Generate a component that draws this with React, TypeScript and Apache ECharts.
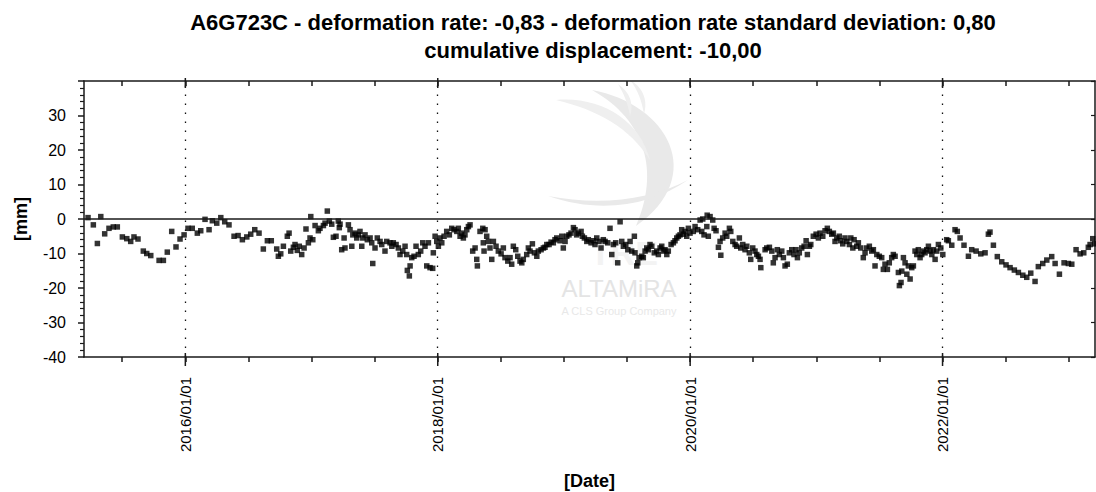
import React, { useEffect, useRef } from "react";
import * as echarts from "echarts";

const titleLine1 = "A6G723C - deformation rate: -0,83 - deformation rate standard deviation: 0,80";
const titleLine2 = "cumulative displacement: -10,00";
const yAxisName = "[mm]";
const xAxisName = "[Date]";

const yMin = -40;
const yMax = 40;
const yStep = 10;
const xMin = 2015.197;
const xMax = 2023.208;
const majorYears = [2016, 2018, 2020, 2022];
const halfYearTicks = [2015.5, 2016, 2016.5, 2017, 2017.5, 2018, 2018.5, 2019, 2019.5, 2020, 2020.5, 2021, 2021.5, 2022, 2022.5, 2023];

// observation epochs (decimal years) and displacement (mm)
const obsYears = [
  2015.229, 2015.271, 2015.303, 2015.330, 2015.361, 2015.395, 2015.429, 2015.461, 2015.501, 2015.536,
  2015.567, 2015.593, 2015.625, 2015.667, 2015.694, 2015.726, 2015.792, 2015.826, 2015.857, 2015.892,
  2015.926, 2015.958, 2015.990, 2016.021, 2016.055, 2016.095, 2016.122, 2016.156, 2016.188, 2016.214,
  2016.249, 2016.281, 2016.312, 2016.346, 2016.386, 2016.418, 2016.452, 2016.487, 2016.518, 2016.550,
  2016.584, 2016.618, 2016.650, 2016.681, 2016.724, 2016.737, 2016.756, 2016.777, 2016.808, 2016.822,
  2016.835,
  2016.856, 2016.869, 2016.887, 2016.903, 2016.922, 2016.941, 2016.956, 2016.975, 2016.988, 2016.994,
  2017.010, 2017.028, 2017.054, 2017.067, 2017.094, 2017.107, 2017.125, 2017.141, 2017.160, 2017.173,
  2017.194, 2017.212, 2017.220, 2017.226, 2017.239, 2017.258, 2017.265, 2017.292, 2017.305, 2017.319,
  2017.327, 2017.345, 2017.358, 2017.371, 2017.384, 2017.398, 2017.406, 2017.424, 2017.442, 2017.464,
  2017.477, 2017.485, 2017.503, 2017.521, 2017.543, 2017.556, 2017.582, 2017.596, 2017.622, 2017.636,
  2017.648, 2017.670, 2017.688, 2017.701, 2017.723, 2017.741, 2017.754, 2017.759, 2017.775, 2017.781,
  2017.794, 2017.812, 2017.828, 2017.846, 2017.865, 2017.881, 2017.899, 2017.913, 2017.926, 2017.939,
  2017.960, 2017.965, 2017.979, 2017.992, 2018.005, 2018.018, 2018.032, 2018.050, 2018.071, 2018.092,
  2018.111, 2018.129, 2018.151, 2018.163, 2018.177, 2018.190, 2018.203, 2018.216, 2018.230, 2018.243,
  2018.256, 2018.277, 2018.296, 2018.309, 2018.314, 2018.335, 2018.357, 2018.361, 2018.367, 2018.375,
  2018.388, 2018.401, 2018.414, 2018.428, 2018.441, 2018.462, 2018.480,
  2018.502, 2018.520, 2018.533, 2018.555, 2018.573, 2018.586, 2018.599, 2018.618, 2018.634, 2018.652,
  2018.666, 2018.678, 2018.705, 2018.718, 2018.731, 2018.750, 2018.766, 2018.785, 2018.797, 2018.819,
  2018.837, 2018.850, 2018.864, 2018.882, 2018.898, 2018.916, 2018.929, 2018.943, 2018.969, 2018.983,
  2018.995, 2019.009, 2019.022, 2019.040, 2019.056, 2019.075, 2019.088, 2019.101, 2019.114, 2019.136,
  2019.146, 2019.162, 2019.181, 2019.193, 2019.215, 2019.233, 2019.246, 2019.260, 2019.278, 2019.294,
  2019.312, 2019.326, 2019.347, 2019.365, 2019.379, 2019.392, 2019.410, 2019.426, 2019.445, 2019.458,
  2019.471, 2019.490, 2019.506, 2019.524, 2019.537, 2019.558, 2019.563, 2019.577, 2019.585, 2019.595,
  2019.617, 2019.629, 2019.643, 2019.656, 2019.669, 2019.682, 2019.696, 2019.716, 2019.735, 2019.748,
  2019.762, 2019.775, 2019.788, 2019.801, 2019.815, 2019.827, 2019.849, 2019.867, 2019.880, 2019.894,
  2019.907, 2019.920, 2019.933, 2019.946, 2019.960, 2019.973, 2019.986, 2019.999, 2020.025, 2020.039,
  2020.060, 2020.079,
  2020.092, 2020.100, 2020.110, 2020.132, 2020.135, 2020.144, 2020.158, 2020.179, 2020.190, 2020.205,
  2020.224, 2020.237, 2020.243, 2020.258, 2020.277, 2020.290, 2020.311, 2020.322, 2020.338, 2020.356,
  2020.369, 2020.390, 2020.401, 2020.417, 2020.435, 2020.449, 2020.469, 2020.480, 2020.496, 2020.514,
  2020.528, 2020.541, 2020.554, 2020.560, 2020.594, 2020.607, 2020.628, 2020.647, 2020.659, 2020.673,
  2020.691, 2020.707, 2020.726, 2020.739, 2020.752, 2020.770, 2020.786, 2020.805, 2020.823, 2020.839,
  2020.850, 2020.865, 2020.884, 2020.903, 2020.919, 2020.929, 2020.945, 2020.956, 2020.976, 2020.998,
  2021.016, 2021.029, 2021.051, 2021.069, 2021.087, 2021.103, 2021.122, 2021.135, 2021.148, 2021.162,
  2021.182, 2021.193, 2021.209, 2021.227, 2021.241, 2021.262, 2021.273, 2021.289, 2021.299, 2021.320,
  2021.333, 2021.352, 2021.372, 2021.386, 2021.399, 2021.420, 2021.439, 2021.452, 2021.465, 2021.479,
  2021.499, 2021.518, 2021.531, 2021.544, 2021.563, 2021.578, 2021.597, 2021.610, 2021.624, 2021.650,
  2021.658, 2021.671, 2021.677, 2021.690, 2021.703, 2021.717, 2021.729, 2021.743, 2021.756, 2021.769,
  2021.782, 2021.796, 2021.808, 2021.822, 2021.835, 2021.848, 2021.861, 2021.875, 2021.888, 2021.901,
  2021.915, 2021.927, 2021.941, 2021.954, 2021.967, 2021.986, 2022.002, 2022.033, 2022.046, 2022.073,
  2022.099, 2022.117, 2022.139, 2022.170, 2022.205, 2022.231, 2022.266, 2022.303, 2022.337, 2022.363,
  2022.376, 2022.403, 2022.434, 2022.469, 2022.503, 2022.535, 2022.569, 2022.601, 2022.636, 2022.667,
  2022.699, 2022.733, 2022.759, 2022.794, 2022.826, 2022.865, 2022.892, 2022.926, 2022.963, 2022.997,
  2023.024, 2023.058, 2023.090, 2023.119, 2023.155, 2023.169, 2023.190, 2023.206,
];

const dispMm = [
  0.4, -1.7, -7.1, 0.7, -4.3, -2.7, -2.3, -2.3, -5.2, -5.7,
  -6.5, -5.2, -5.8, -9.3, -10.0, -10.6, -12.0, -12.0, -9.6, -3.6,
  -8.1, -5.8, -4.6, -2.7, -2.7, -4.1, -3.4, -0.1, -3.1, -0.5,
  -1.2, 0.4, -0.8, -1.7, -5.0, -4.8, -6.0, -5.2, -4.4, -3.1,
  -4.1, -8.7, -6.3, -6.3, -8.7, -10.8, -10.1, -7.9, -5.0, -4.1,
  -9.3,
  -8.2, -7.4, -9.1, -7.9, -10.3, -8.4, -2.9, -6.9, -5.5, 0.7,
  -6.0, -1.9, -3.4, -2.7, -1.9, -1.2, 2.3, -0.6, -1.5, -5.3,
  -5.0, -0.6, -2.5, -1.5, -8.9, -5.5, -8.4, -1.7, -3.1, -7.9,
  -4.6, -4.1, -5.5, -4.6, -3.6, -7.9, -5.5, -4.6, -6.0, -5.5,
  -6.9, -12.9, -8.4, -5.5, -6.5, -7.4, -9.3, -6.5, -6.9, -7.9,
  -6.9, -7.4, -8.4, -10.3, -9.3, -7.9, -10.3, -14.9, -16.5, -13.6,
  -11.2, -10.8, -7.9, -10.3, -9.3, -6.9, -7.9, -13.6, -6.9, -14.1,
  -14.3, -9.8, -5.0, -6.5, -7.9, -5.5, -6.9, -5.0, -3.6, -4.6,
  -2.7, -3.1, -3.6, -2.7, -5.0, -4.1, -5.5, -4.6, -3.1, -2.2,
  -1.7, -9.3, -8.4, -11.7, -13.6, -3.6, -2.7, -6.9, -9.3, -3.1,
  -5.0, -6.5, -8.4, -11.7, -6.5, -7.9, -9.3,
  -10.1, -8.4, -11.2, -12.2, -11.2, -13.1, -7.9, -8.9, -10.8, -12.2,
  -12.7, -11.7, -10.3, -8.4, -9.3, -7.2, -9.8, -10.8, -9.3, -8.9,
  -8.4, -8.2, -7.4, -7.4, -6.7, -6.9, -6.0, -5.5, -6.3, -5.0,
  -8.4, -6.5, -5.0, -4.6, -4.1, -2.5, -3.1, -4.6, -4.1, -3.6,
  -5.0, -5.5, -6.5, -6.0, -6.9, -6.3, -7.4, -5.5, -6.5, -8.4,
  -6.0, -6.5, -6.9, -2.7, -10.3, -7.4, -6.9, -12.7, -0.8, -6.5,
  -7.9, -7.4, -8.9, -6.5, -9.3, -5.0, -9.8, -13.6, -12.7, -11.2,
  -10.8, -11.2, -9.3, -8.4, -8.9, -7.4, -7.9, -9.8, -9.3, -10.3,
  -8.4, -7.9, -9.3, -8.9, -10.3, -9.3, -7.4, -6.9, -6.3, -5.5,
  -5.0, -4.6, -3.1, -4.4, -3.6, -5.0, -2.7, -4.1, -3.6, -2.2,
  -3.1, -0.3,
  -3.6, 0.0, -4.6, -2.2, 1.1, -5.0, 0.7, -0.3, -2.7, -3.4,
  -8.2, -6.5, -10.5, -5.5, -4.1, -5.0, -2.7, -3.6, -6.5, -7.4,
  -7.9, -5.5, -8.4, -7.4, -8.9, -7.9, -9.8, -11.7, -8.4, -9.3,
  -10.3, -10.8, -11.7, -14.1, -8.9, -8.4, -8.2, -9.3, -12.7, -11.2,
  -8.9, -10.3, -9.3, -11.2, -13.6, -13.1, -9.8, -8.9, -10.3, -8.9,
  -11.2, -9.8, -8.4, -7.9, -6.3, -10.3, -7.9, -7.4, -5.0, -4.4,
  -5.5, -4.1, -5.0, -3.4, -2.7, -3.6, -4.4, -4.1, -6.5, -5.5,
  -5.0, -6.3, -7.2, -5.5, -6.5, -7.4, -5.5, -8.4, -6.0, -7.9,
  -6.9, -8.4, -11.2, -9.8, -8.4, -7.9, -9.3, -8.9, -13.6, -10.3,
  -10.8, -11.2, -14.6, -13.1, -14.6, -12.7, -11.2, -10.3, -10.8, -15.5,
  -19.3, -18.4, -15.1, -11.2, -12.7, -16.0, -13.6, -17.4, -14.1, -13.6,
  -9.3, -10.3, -8.9, -11.2, -10.3, -9.3, -9.8, -8.9, -7.9, -9.3,
  -10.3, -8.9, -11.7, -9.3, -7.4, -8.4, -10.3, -6.0, -6.3, -7.6,
  -3.1, -3.6, -5.5, -7.6, -10.8, -8.9, -9.3, -10.1, -9.8, -4.4,
  -3.8, -7.6, -10.9, -12.4, -13.3, -14.1, -14.8, -15.5, -16.3, -16.9,
  -15.7, -18.1, -13.8, -12.9, -11.9, -10.9, -12.9, -16.0, -12.7, -12.9,
  -13.1, -8.9, -10.1, -9.8, -8.2, -7.4, -5.7, -7.2,
];

const FONT = "'Liberation Sans', Arial, sans-serif";

const logoSail =
  "M592 90 C668 104 708 176 636 226 C660 172 646 120 592 90 Z";
const logoSwoosh =
  "M548 196 C600 214 650 206 688 180 C650 200 600 206 548 196 Z";
const logoWing =
  "M556 100 C600 96 640 120 650 160 C630 128 598 110 556 100 Z";
const logoArcs =
  "M618 84 C630 92 634 104 630 116 C628 104 624 94 618 84 Z M630 80 C644 88 648 102 644 114 C642 102 638 90 630 80 Z";

export default function App() {
  const ref = useRef<HTMLDivElement>(null);

  useEffect(() => {
    if (!ref.current) return;
    echarts.graphic.registerShape("logoSail", echarts.graphic.extendPath(logoSail, {}));
    echarts.graphic.registerShape("logoSwoosh", echarts.graphic.extendPath(logoSwoosh, {}));
    echarts.graphic.registerShape("logoWing", echarts.graphic.extendPath(logoWing, {}));
    echarts.graphic.registerShape("logoArcs", echarts.graphic.extendPath(logoArcs, {}));

    const chart = echarts.init(ref.current, null, { renderer: "svg" });
    const axisColor = "#1a1a1a";
    const points = obsYears.map((t, i) => [t, dispMm[i]]);

    chart.setOption({
      animation: false,
      backgroundColor: "#fff",
      textStyle: { fontFamily: FONT },
      title: {
        text: titleLine1 + "\n" + titleLine2,
        left: 593,
        top: 8,
        padding: 0,
        textAlign: "center",
        textStyle: {
          fontFamily: FONT,
          fontSize: 22,
          fontWeight: "bold",
          color: "#000",
          lineHeight: 28,
        },
      },
      grid: { left: 84, right: 1, top: 81, bottom: 135, outerBoundsMode: "none", containLabel: false },
      xAxis: [
        {
          type: "value",
          position: "bottom",
          min: xMin,
          max: xMax,
          name: xAxisName,
          nameLocation: "middle",
          nameGap: 115,
          nameTextStyle: { fontFamily: FONT, fontSize: 18, fontWeight: "bold", color: "#000" },
          axisLine: { show: true, onZero: false, lineStyle: { color: axisColor, width: 1.5 } },
          axisTick: {
            show: true,
            inside: false,
            length: 5,
            customValues: halfYearTicks,
            lineStyle: { color: axisColor, width: 1.5 },
          },
          axisLabel: {
            show: true,
            customValues: majorYears,
            rotate: 90,
            margin: 20,
            fontFamily: FONT,
            fontSize: 15,
            color: "#000",
            formatter: (v: number) => `${Math.round(v)}/01/01`,
          },
          splitLine: { show: false },
        },
        {
          type: "value",
          position: "top",
          min: xMin,
          max: xMax,
          axisLine: { show: true, onZero: false, lineStyle: { color: axisColor, width: 1.5 } },
          axisTick: {
            show: true,
            inside: true,
            length: 5,
            customValues: halfYearTicks,
            lineStyle: { color: axisColor, width: 1.5 },
          },
          axisLabel: { show: false },
          splitLine: { show: false },
        },
      ],
      yAxis: [
        {
          type: "value",
          position: "left",
          min: yMin,
          max: yMax,
          interval: yStep,
          name: yAxisName,
          nameLocation: "middle",
          nameGap: 54,
          nameRotate: 90,
          nameTextStyle: { fontFamily: FONT, fontSize: 18, fontWeight: "bold", color: "#000" },
          axisLine: { show: true, onZero: false, lineStyle: { color: axisColor, width: 1.5 } },
          axisTick: { show: true, inside: false, length: 6, lineStyle: { color: axisColor, width: 1.5 } },
          minorTick: { show: true, splitNumber: 5, length: 4, lineStyle: { color: axisColor, width: 1.2 } },
          axisLabel: {
            fontFamily: FONT,
            fontSize: 16,
            color: "#000",
            margin: 18,
            formatter: (v: number) => (v === yMax ? "" : String(v)),
          },
          splitLine: { show: false },
        },
        {
          type: "value",
          position: "right",
          min: yMin,
          max: yMax,
          interval: yStep,
          axisLine: { show: true, onZero: false, lineStyle: { color: axisColor, width: 1.5 } },
          axisTick: { show: true, inside: true, length: 4, lineStyle: { color: axisColor, width: 1.2 } },
          axisLabel: { show: false },
          splitLine: { show: false },
        },
      ],
      series: [
        {
          type: "scatter",
          xAxisIndex: 0,
          yAxisIndex: 0,
          data: points,
          symbol: "rect",
          symbolSize: [5.5, 5.5],
          itemStyle: { color: "#000" },
          z: 3,
          markLine: {
            silent: true,
            symbol: "none",
            label: { show: false },
            data: [
              { yAxis: 0, lineStyle: { type: "solid", color: "#1a1a1a", width: 1.5 } },
              ...majorYears.map((yr) => ({
                xAxis: yr,
                lineStyle: { type: [1.5, 7.5], color: "#111", width: 1.3 },
              })),
            ],
          },
        },
      ],
    });

    const yBottom = chart.convertToPixel({ yAxisIndex: 0 }, yMin) as number;
    const yTop = chart.convertToPixel({ yAxisIndex: 0 }, yMax) as number;
    const majorTickEls = majorYears.flatMap((yr) => {
      const px = chart.convertToPixel({ xAxisIndex: 0 }, yr) as number;
      return [
        {
          type: "line",
          shape: { x1: px, y1: yBottom - 4, x2: px, y2: yBottom + 9 },
          style: { stroke: axisColor, lineWidth: 1.5 },
          z: 10,
        },
        {
          type: "line",
          shape: { x1: px, y1: yTop - 3, x2: px, y2: yTop + 7 },
          style: { stroke: axisColor, lineWidth: 1.5 },
          z: 10,
        },
      ];
    });

    const wm = "#e9e9e9";
    chart.setOption({
      graphic: [
        { type: "logoSail", x: 0, y: 0, style: { fill: wm }, z: 0, silent: true },
        { type: "logoSwoosh", x: 0, y: 0, style: { fill: wm }, z: 0, silent: true },
        { type: "logoWing", x: 0, y: 0, style: { fill: "#efefef" }, z: 0, silent: true },
        { type: "logoArcs", x: 0, y: 0, style: { fill: "#efefef" }, z: 0, silent: true },
        {
          type: "text",
          x: 624,
          y: 253,
          z: 0,
          silent: true,
          style: {
            text: "TRE",
            fill: "#f3f3f3",
            font: `bold 34px ${FONT}`,
            align: "center",
            verticalAlign: "middle",
          },
        },
        {
          type: "text",
          x: 619,
          y: 288,
          z: 0,
          silent: true,
          style: {
            text: "ALTAMiRA",
            fill: "#e4e4e4",
            font: `24px ${FONT}`,
            align: "center",
            verticalAlign: "middle",
          },
        },
        {
          type: "text",
          x: 619,
          y: 311,
          z: 0,
          silent: true,
          style: {
            text: "A CLS Group Company",
            fill: "#e8e8e8",
            font: `11px ${FONT}`,
            align: "center",
            verticalAlign: "middle",
          },
        },
        ...majorTickEls,
      ],
    });

    return () => {
      chart.dispose();
    };
  }, []);

  return (
    <div
      ref={ref}
      style={{ position: "fixed", left: 0, top: 0, width: 1096, height: 492, background: "#fff" }}
    />
  );
}
